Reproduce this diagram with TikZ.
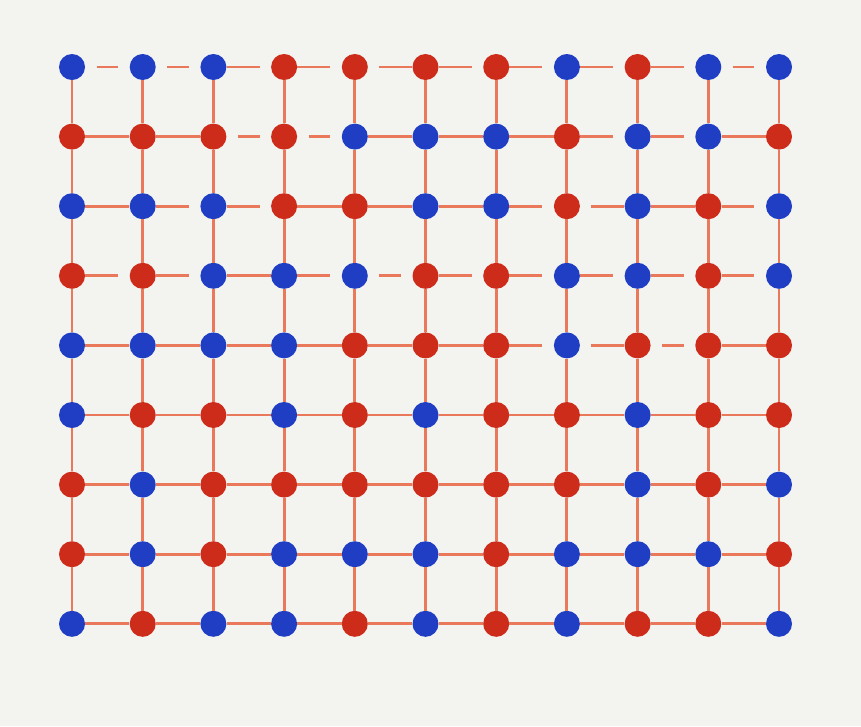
\documentclass[tikz,border=0pt]{standalone}
\definecolor{inkblue}{RGB}{32,62,196}
\definecolor{inkred}{RGB}{206,44,26}
\definecolor{bondcol}{RGB}{234,120,90}
\definecolor{paper}{RGB}{243,243,240}
\tikzset{site/.style = {circle, inner sep=0pt, minimum size=0.65cm},
  siteB/.style = {site, fill=inkblue},
  siteR/.style = {site, fill=inkred},
  bondline/.style = {bondcol, line width=2.1pt},
  gaps/.style = {},
  gapl/.style = {shorten <=8pt},
  gapr/.style = {shorten >=8pt},
  gapb/.style = {shorten <=8pt, shorten >=8pt}}
\begin{document}
\begin{tikzpicture}[x=0.025cm, y=-0.025cm]
  \fill[paper] (0,0) rectangle (861,726);
  % sites, row by row
  \foreach \r/\cols in {1/{B,B,B,R,R,R,R,B,R,B,B}, 2/{R,R,R,R,B,B,B,R,B,B,R},
      3/{B,B,B,R,R,B,B,R,B,R,B}, 4/{R,R,B,B,B,R,R,B,B,R,B},
      5/{B,B,B,B,R,R,R,B,R,R,R}, 6/{B,R,R,B,R,B,R,R,B,R,R},
      7/{R,B,R,R,R,R,R,R,B,R,B}, 8/{R,B,R,B,B,B,R,B,B,B,R},
      9/{B,R,B,B,R,B,R,B,R,R,B}}
    \foreach \k [count=\c] in \cols
      \node[site\k] (n-\r-\c) at ({72+(\c-1)*70.7},{67+(\r-1)*69.6}) {};
  % horizontal bonds (l, r, b: gap at left, right, both ends)
  \foreach \r/\codes in {1/{b,b,r,r,l,r,r,r,r,b}, 2/{s,s,b,b,s,s,s,r,r,s},
      3/{s,r,r,s,s,s,r,l,s,r}, 4/{r,r,s,r,b,r,r,r,r,r},
      5/{s,s,s,s,s,s,r,l,b,s}, 6/{s,s,s,s,s,s,s,s,s,s},
      7/{s,s,s,s,s,s,s,s,s,s}, 8/{s,s,s,s,s,s,s,s,s,s},
      9/{s,s,s,s,s,s,s,s,s,s}}
    \foreach \g [count=\c] in \codes {
      \pgfmathtruncatemacro\d{\c+1}
      \draw[bondline, gap\g] (n-\r-\c) -- (n-\r-\d);
    }
  % vertical bonds
  \foreach \c in {1,...,11}
    \foreach \r [count=\s from 2] in {1,...,8}
      \draw[bondline] (n-\r-\c) -- (n-\s-\c);
\end{tikzpicture}
\end{document}
